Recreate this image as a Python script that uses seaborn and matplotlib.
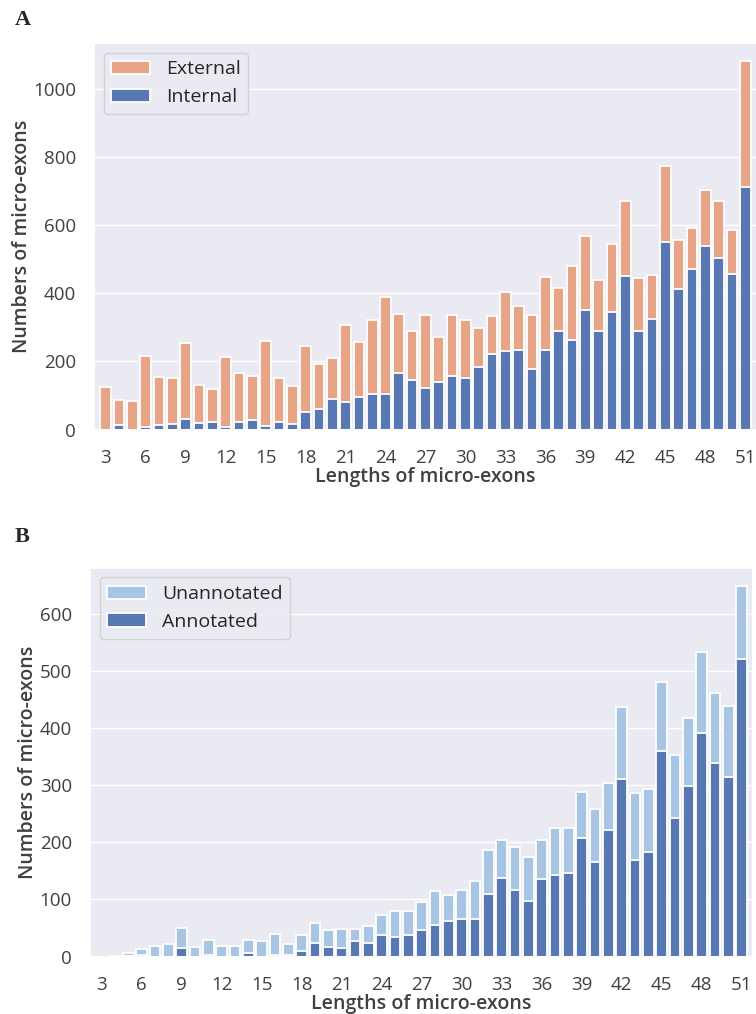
import numpy as np
import pandas as pd
import matplotlib
matplotlib.use("Agg")
import matplotlib.pyplot as plt
import seaborn as sns

# lengths of micro-exons (nt)
lengths = list(range(3, 52))

# panel A: internal / external micro-exons
internal = [0, 12, 0, 8, 14, 15, 32, 20, 23, 6, 23, 29, 11, 22, 17, 50, 59,
            91, 80, 96, 104, 103, 166, 146, 123, 139, 157, 150, 184, 222, 229,
            232, 179, 232, 290, 264, 350, 290, 345, 451, 288, 324, 551, 412,
            472, 537, 504, 456, 711]
external = [126, 76, 85, 209, 141, 137, 223, 111, 95, 206, 142, 128, 248, 128,
            110, 194, 133, 119, 226, 161, 216, 286, 173, 143, 213, 132, 180,
            171, 114, 111, 175, 130, 156, 216, 124, 216, 219, 149, 198, 219,
            158, 130, 221, 143, 119, 167, 167, 130, 369]

# panel B: annotated / unannotated micro-exons
annotated = [0, 0, 1, 3, 0, 0, 15, 0, 3, 0, 0, 7, 0, 2, 2, 9, 23, 16, 15, 27,
             23, 38, 34, 38, 46, 55, 63, 66, 66, 110, 138, 116, 98, 135, 143,
             147, 208, 166, 221, 312, 170, 184, 360, 242, 298, 391, 340, 314,
             521]
unannotated = [0, 1, 5, 10, 19, 22, 35, 17, 26, 19, 19, 22, 27, 38, 20, 29, 36,
               30, 33, 22, 30, 34, 46, 42, 49, 59, 44, 50, 66, 76, 66, 76, 76,
               69, 82, 78, 81, 92, 84, 126, 116, 110, 121, 111, 120, 142, 122,
               125, 128]

c_ext = "#E8A487"
c_int = "#5878B4"
c_unann = "#A8C6E4"

sns.set_theme(style="darkgrid")
plt.rcParams["font.family"] = ["Open Sans", "DejaVu Sans"]

dfA = pd.DataFrame({"length": lengths, "internal": internal, "external": external})
dfA["total"] = dfA["internal"] + dfA["external"]
dfB = pd.DataFrame({"length": lengths, "annotated": annotated, "unannotated": unannotated})
dfB["total"] = dfB["annotated"] + dfB["unannotated"]

fig = plt.figure(figsize=(7.56, 10.14), dpi=100)
axA = fig.add_axes([0.1243, 0.5764, 0.877, 0.3812])
axB = fig.add_axes([0.119, 0.0567, 0.8775, 0.3834])

bar_kw = dict(width=0.8, edgecolor="white", linewidth=1.3, saturation=1, errorbar=None)

sns.barplot(data=dfA, x="length", y="total", color=c_ext, label="External", ax=axA, **bar_kw)
sns.barplot(data=dfA, x="length", y="internal", color=c_int, label="Internal", ax=axA, **bar_kw)

sns.barplot(data=dfB, x="length", y="total", color=c_unann, label="Unannotated", ax=axB, **bar_kw)
sns.barplot(data=dfB, x="length", y="annotated", color=c_int, label="Annotated", ax=axB, **bar_kw)

for ax, df, yticks in [(axA, dfA, range(0, 1001, 200)), (axB, dfB, range(0, 601, 100))]:
    ax.set_xlim(-0.88, 48.88)
    ax.set_ylim(0, df["total"].max() * 1.05)
    ax.set_yticks(list(yticks))
    ax.set_xticks(range(0, 49, 3))
    ax.set_xticklabels([str(v) for v in lengths[::3]])
    ax.tick_params(axis="y", labelsize=13.5, pad=7, colors=".25")
    ax.tick_params(axis="x", labelsize=13.5, pad=8, colors=".25")
    ax.set_xlabel("Lengths of micro-exons", fontsize=14, fontweight="semibold", color=".25", labelpad=0)
    ax.set_ylabel("Numbers of micro-exons", fontsize=14, fontweight="semibold", color=".25", labelpad=1)
    ax.xaxis.grid(False)
    ax.legend(loc="upper left", fontsize=14)

fig.text(0.019, 0.98, "A", fontsize=16, fontweight="bold", family="Liberation Serif", va="center")
fig.text(0.019, 0.47, "B", fontsize=16, fontweight="bold", family="Liberation Serif", va="center")

fig.savefig("out.png", dpi=100)
